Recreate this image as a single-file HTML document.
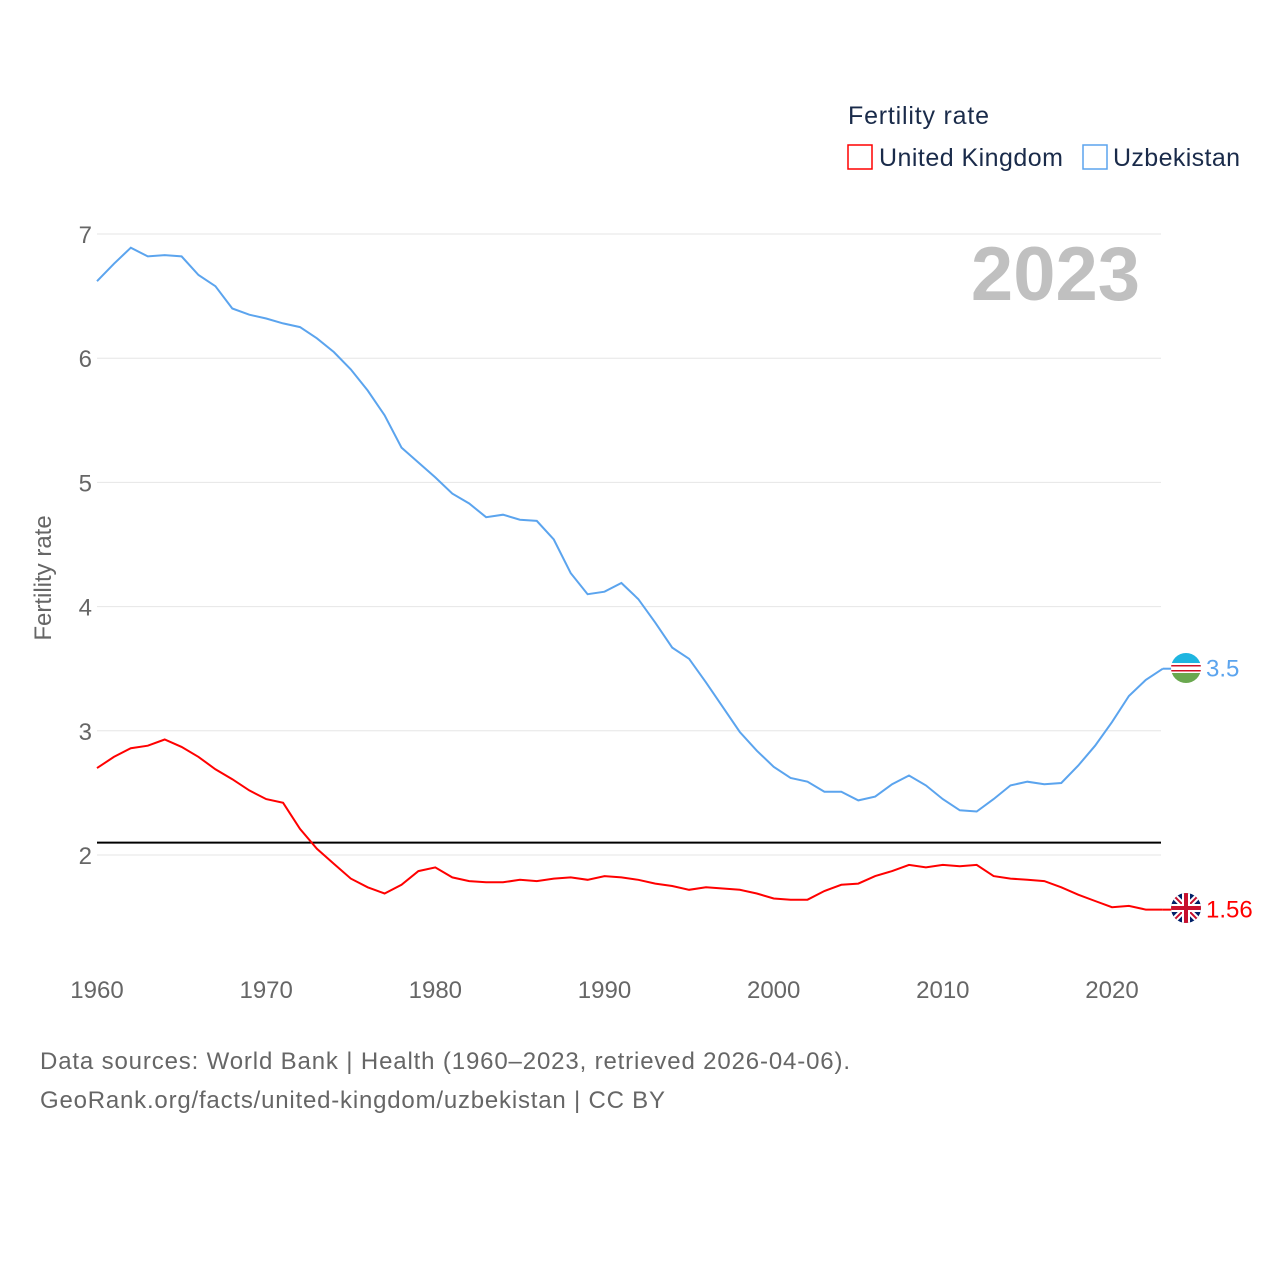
<!DOCTYPE html>
<html><head><meta charset="utf-8">
<style>
html,body{margin:0;padding:0;background:#fff;}
body{width:1280px;height:1280px;overflow:hidden;font-family:"Liberation Sans",sans-serif;}
</style></head>
<body>
<svg id="chart" width="1280" height="1280" xmlns="http://www.w3.org/2000/svg" font-family="Liberation Sans, sans-serif">
<g id="grid"></g>
<g id="xticks"></g>
<g id="yticks"></g>
<text x="1140" y="300" text-anchor="end" font-size="76" font-weight="bold" fill="#c0c0c0">2023</text>
<text transform="translate(51,578) rotate(-90)" text-anchor="middle" font-size="24" fill="#666">Fertility rate</text>
<line id="refline" stroke="#000" stroke-width="2"></line>
<g id="series"></g>
<g>
<text x="848" y="124" font-size="25" fill="#1a2b4a" textLength="141">Fertility rate</text>
<g><rect x="848" y="145" width="24" height="24" fill="none" stroke="#f00" stroke-width="1.5"/><text x="879" y="166" font-size="25" fill="#1a2b4a" textLength="184">United Kingdom</text></g>
<g><rect x="1083" y="145" width="24" height="24" fill="none" stroke="#5ba4ee" stroke-width="1.5"/><text x="1113" y="166" font-size="25" fill="#1a2b4a" textLength="127">Uzbekistan</text></g>
</g>
<g font-size="24" fill="#666">
<text x="40" y="1069" textLength="810">Data sources: World Bank | Health (1960–2023, retrieved 2026-04-06).</text>
<text x="40" y="1108" textLength="625">GeoRank.org/facts/united-kingdom/uzbekistan | CC BY</text>
</g>
<g>
<clipPath id="c1"><circle cx="1186" cy="668" r="15"/></clipPath>
<g clip-path="url(#c1)"><rect x="1170" y="652" width="32" height="11" fill="#1eb5e0"/><rect x="1170" y="663" width="32" height="10" fill="#fff"/><rect x="1170" y="665" width="32" height="1.5" fill="#ce1126"/><rect x="1170" y="670" width="32" height="1.5" fill="#ce1126"/><rect x="1170" y="673" width="32" height="12" fill="#6aa84f"/></g>
</g>
<g>
<clipPath id="c2"><circle cx="1186" cy="908" r="15"/></clipPath>
<g clip-path="url(#c2)"><rect x="1170" y="892" width="32" height="32" fill="#012169"/><path d="M1170 892L1202 924M1202 892L1170 924" stroke="#fff" stroke-width="6"/><path d="M1170 892L1202 924M1202 892L1170 924" stroke="#c8102e" stroke-width="2"/><path d="M1186 892V924M1170 908H1202" stroke="#fff" stroke-width="8"/><path d="M1186 892V924M1170 908H1202" stroke="#c8102e" stroke-width="4"/></g>
</g>
</svg>
<script>
const years=[];for(let y=1960;y<=2023;y++)years.push(y);
const ukValues=[2.70,2.79,2.86,2.88,2.93,2.87,2.79,2.69,2.61,2.52,2.45,2.42,2.21,2.05,1.93,1.81,1.74,1.69,1.76,1.87,1.90,1.82,1.79,1.78,1.78,1.80,1.79,1.81,1.82,1.80,1.83,1.82,1.80,1.77,1.75,1.72,1.74,1.73,1.72,1.69,1.65,1.64,1.64,1.71,1.76,1.77,1.83,1.87,1.92,1.90,1.92,1.91,1.92,1.83,1.81,1.80,1.79,1.74,1.68,1.63,1.58,1.59,1.56,1.56];
const uzValues=[6.62,6.76,6.89,6.82,6.83,6.82,6.67,6.58,6.40,6.35,6.32,6.28,6.25,6.16,6.05,5.91,5.74,5.54,5.28,5.16,5.04,4.91,4.83,4.72,4.74,4.70,4.69,4.54,4.27,4.10,4.12,4.19,4.06,3.87,3.67,3.58,3.39,3.19,2.99,2.84,2.71,2.62,2.59,2.51,2.51,2.44,2.47,2.57,2.64,2.56,2.45,2.36,2.35,2.45,2.56,2.59,2.57,2.58,2.72,2.88,3.07,3.28,3.41,3.50];
const xTicks=[1960,1970,1980,1990,2000,2010,2020];
const yTicks=[2,3,4,5,6,7];
const refValue=2.1;
const ukLabel="1.56", uzLabel="3.5";
const NS="http://www.w3.org/2000/svg";
const X=v=>97+(v-1960)*(1112-97)/60;
const Y=v=>855-(v-2)*124.2;
function mk(tag,attrs,parent){const e=document.createElementNS(NS,tag);for(const k in attrs)e.setAttribute(k,attrs[k]);parent.appendChild(e);return e;}
const grid=document.getElementById('grid'),yt=document.getElementById('yticks'),xt=document.getElementById('xticks');
yTicks.forEach(t=>{
 const l=mk('line',{x1:97,x2:1161,y1:Y(t),y2:Y(t),stroke:'#e6e6e6','stroke-width':1},grid);
 
 
 const tx=mk('text',{x:92,y:Y(t)+9,'text-anchor':'end','font-size':24,fill:'#666'},yt);
 tx.textContent=t;
 
 
});
xTicks.forEach(t=>{
 const tx=mk('text',{x:X(t),y:998,'text-anchor':'middle','font-size':24,fill:'#666'},xt);
 tx.textContent=t;
 
 
});
const rl=document.getElementById('refline');
rl.setAttribute('x1',97);rl.setAttribute('x2',1161);rl.setAttribute('y1',Y(refValue));rl.setAttribute('y2',Y(refValue));
const sg=document.getElementById('series');
function series(vals,color,name,label){
 const d=vals.map((v,i)=>(i?'L':'M')+X(years[i]).toFixed(1)+' '+Y(v).toFixed(1)).join('');
 const p=mk('path',{d:d,fill:'none',stroke:color,'stroke-width':2},sg);
 
 
 const last=vals[vals.length-1];
 const c=mk('line',{x1:X(2023),x2:1172,y1:Y(last),y2:Y(last),stroke:color,'stroke-width':2},sg);
 
 
 const t=mk('text',{x:1206,y:Y(last)+8,'font-size':24,fill:color},sg);
 t.textContent=label;
 
 
}
series(uzValues,'#5ba4ee','uzbekistan',uzLabel);
series(ukValues,'#f00','uk',ukLabel);
</script>
</body></html>
